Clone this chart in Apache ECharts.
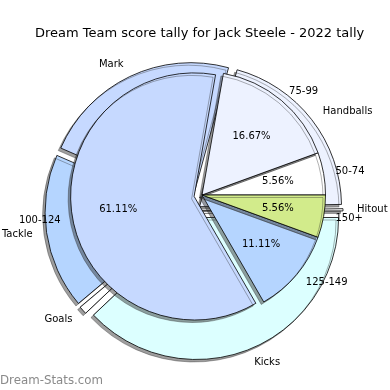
<!DOCTYPE html>
<html><head><meta charset="utf-8">
<script src="https://cdn.jsdelivr.net/npm/echarts@6/dist/echarts.min.js"></script>
<style>html,body{margin:0;padding:0;background:#fff}#c{width:390px;height:390px}</style>
</head><body><div id="c"></div>
<script>
// Outer ring: Dream Team points by stat type
const outerCategories = ['Hitout', 'Handballs', 'Mark', 'Tackle', 'Goals', 'Kicks'];
const outerValues = [5, 400, 444, 345, 18, 741];
const outerColors = ['#ffffff', '#edf2ff', '#c6d9ff', '#b5d5ff', '#ffffff', '#dcffff'];
// Inner pie: games per score range
const innerCategories = ['50-74', '75-99', '100-124', '125-149', '150+'];
const innerValues = [1, 3, 11, 2, 1];
const innerColors = ['#ffffff', '#edf2ff', '#c6d9ff', '#b5d5ff', '#d2eb8b'];
const explodedInner = ['100-124'];

const FONT = 'DejaVu Sans';
const innerTotal = innerValues.reduce((a, b) => a + b, 0);
const shadow = {shadowColor: 'rgba(40,40,40,0.45)', shadowBlur: 0, shadowOffsetX: -2.5, shadowOffsetY: 2.5};
const labelBase = {show: true, position: 'outside', formatter: '{b}', fontFamily: FONT, fontSize: 10, color: '#000',
  distanceToLabelLine: 0, bleedMargin: 0, overflow: 'none'};

const chart = echarts.init(document.getElementById('c'), null, {renderer: 'canvas'});
chart.setOption({
  animation: false,
  backgroundColor: '#fff',
  title: {
    text: 'Dream Team score tally for Jack Steele - 2022 tally',
    left: 30, top: 22,
    textStyle: {fontFamily: FONT, fontSize: 13, fontWeight: 'normal', color: '#000'}
  },
  graphic: [{
    type: 'text', left: 0, top: 375,
    style: {text: 'Dream-Stats.com', fontFamily: FONT, fontSize: 11.8, fill: '#8a8a8a'}
  }],
  series: [
    {
      type: 'pie', center: [194, 211], radius: 142,
      startAngle: 0, clockwise: false, minShowLabelAngle: 0,
      selectedMode: 'multiple', selectedOffset: 7,
      avoidLabelOverlap: false, emphasis: {disabled: true},
      labelLayout: {hideOverlap: false},
      label: labelBase,
      labelLine: {show: false, length: 14, length2: 0},
      itemStyle: Object.assign({borderColor: '#000', borderWidth: 0.8}, shadow),
      data: outerCategories.map((n, i) => ({name: n, value: outerValues[i], selected: true, itemStyle: {color: outerColors[i]}}))
    },
    {
      type: 'pie', center: [202, 195], radius: 123.5,
      startAngle: 0, clockwise: false,
      selectedMode: 'multiple', selectedOffset: 8,
      avoidLabelOverlap: false, emphasis: {disabled: true},
      labelLayout: {hideOverlap: false},
      label: labelBase,
      labelLine: {show: false, length: 12, length2: 0},
      itemStyle: Object.assign({borderColor: '#000', borderWidth: 0.8}, shadow),
      data: innerCategories.map((n, i) => ({name: n, value: innerValues[i], selected: explodedInner.includes(n), itemStyle: {color: innerColors[i]}}))
    },
    {
      type: 'pie', center: [202, 195], radius: [24.7, 123.5],
      startAngle: 0, clockwise: false, silent: true,
      selectedMode: 'multiple', selectedOffset: 8,
      avoidLabelOverlap: false, emphasis: {disabled: true},
      labelLayout: {hideOverlap: false},
      label: {show: true, position: 'inside', fontFamily: FONT, fontSize: 10, color: '#000',
        formatter: p => (p.value / innerTotal * 100).toFixed(2) + '%'},
      labelLine: {show: false},
      itemStyle: {color: 'rgba(0,0,0,0)', borderWidth: 0},
      data: innerCategories.map((n, i) => ({name: n, value: innerValues[i], selected: explodedInner.includes(n)}))
    }
  ]
});
</script></body></html>
